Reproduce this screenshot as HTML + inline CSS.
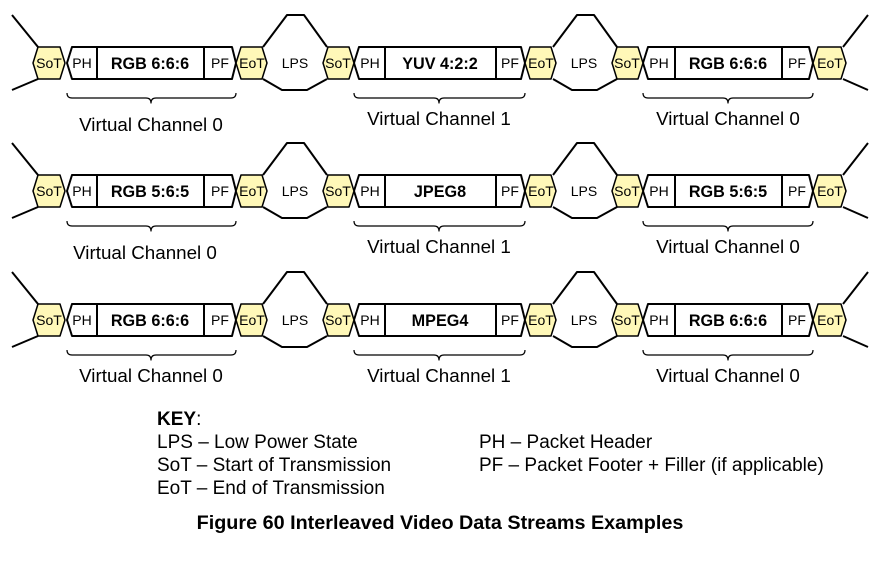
<!DOCTYPE html>
<html><head><meta charset="utf-8"><style>
html,body{margin:0;padding:0;background:#fff;}
svg{display:block;font-family:"Liberation Sans",Arial,sans-serif;}
</style></head><body>
<svg width="885" height="572" viewBox="0 0 885 572" xmlns="http://www.w3.org/2000/svg">
<defs>
<g id="row" stroke="#000" stroke-width="2" fill="none" stroke-linejoin="round">
<path d="M12,-48 L38,-16 M12,27 L38,16"/>
<path d="M263,-16 L287,-48 L304,-48 L327,-16 M263,16 L282,27 L307,27 L327,16"/>
<path d="M553,-16 L577,-48 L594,-48 L617,-16 M553,16 L572,27 L597,27 L617,16"/>
<path d="M843,-16 L868,-48 M843,16 L868,27"/>
<polygon fill="#fff" points="67,0 72,-16 232,-16 236,0 232,16 72,16"/>
<polygon fill="#fff" points="354,0 359,-16 521,-16 525,0 521,16 359,16"/>
<polygon fill="#fff" points="643,0 648,-16 809,-16 813,0 809,16 648,16"/>
<path d="M97,-16V16 M204,-16V16 M385,-16V16 M496,-16V16 M675,-16V16 M782,-16V16"/>
<g fill="#fff8b8" stroke-width="1.5">
<polygon points="33,0 38,-16 60,-16 65,0 60,16 38,16"/>
<polygon points="236,0 241,-16 262,-16 267,0 262,16 241,16"/>
<polygon points="323,0 328,-16 349,-16 354,0 349,16 328,16"/>
<polygon points="525,0 530,-16 551,-16 556,0 551,16 530,16"/>
<polygon points="612,0 617,-16 638,-16 643,0 638,16 617,16"/>
<polygon points="813,0 818,-16 841,-16 846,0 841,16 818,16"/>
</g>
<g stroke-width="1.2">
<path d="M67,30 q0,5 5,5 L146,35 q5,0 5,5 q0,-5 5,-5 L231,35 q5,0 5,-5"/>
<path d="M354,30 q0,5 5,5 L434,35 q5,0 5,5 q0,-5 5,-5 L520,35 q5,0 5,-5"/>
<path d="M643,30 q0,5 5,5 L723,35 q5,0 5,5 q0,-5 5,-5 L808,35 q5,0 5,-5"/>
</g>
</g>
</defs>
<use href="#row" transform="translate(0,63)"/>
<use href="#row" transform="translate(0,191)"/>
<use href="#row" transform="translate(0,320)"/>
<g font-size="14" text-anchor="middle">
<g transform="translate(0,63)">
<text x="49" y="5">SoT</text><text x="82" y="5">PH</text><text x="220" y="5">PF</text>
<text x="252" y="5">EoT</text><text x="295" y="5">LPS</text><text x="338" y="5">SoT</text>
<text x="370" y="5">PH</text><text x="510" y="5">PF</text><text x="541" y="5">EoT</text>
<text x="584" y="5">LPS</text><text x="627" y="5">SoT</text><text x="659" y="5">PH</text>
<text x="797" y="5">PF</text><text x="830" y="5">EoT</text>
<g font-weight="bold" font-size="16.2"><text x="150" y="6">RGB 6:6:6</text><text x="440" y="6">YUV 4:2:2</text><text x="728" y="6">RGB 6:6:6</text></g>
</g>
<g transform="translate(0,191)">
<text x="49" y="5">SoT</text><text x="82" y="5">PH</text><text x="220" y="5">PF</text>
<text x="252" y="5">EoT</text><text x="295" y="5">LPS</text><text x="338" y="5">SoT</text>
<text x="370" y="5">PH</text><text x="510" y="5">PF</text><text x="541" y="5">EoT</text>
<text x="584" y="5">LPS</text><text x="627" y="5">SoT</text><text x="659" y="5">PH</text>
<text x="797" y="5">PF</text><text x="830" y="5">EoT</text>
<g font-weight="bold" font-size="16.2"><text x="150" y="6">RGB 5:6:5</text><text x="440" y="6">JPEG8</text><text x="728" y="6">RGB 5:6:5</text></g>
</g>
<g transform="translate(0,320)">
<text x="49" y="5">SoT</text><text x="82" y="5">PH</text><text x="220" y="5">PF</text>
<text x="252" y="5">EoT</text><text x="295" y="5">LPS</text><text x="338" y="5">SoT</text>
<text x="370" y="5">PH</text><text x="510" y="5">PF</text><text x="541" y="5">EoT</text>
<text x="584" y="5">LPS</text><text x="627" y="5">SoT</text><text x="659" y="5">PH</text>
<text x="797" y="5">PF</text><text x="830" y="5">EoT</text>
<g font-weight="bold" font-size="16.2"><text x="150" y="6">RGB 6:6:6</text><text x="440" y="6">MPEG4</text><text x="728" y="6">RGB 6:6:6</text></g>
</g>
</g>
<g font-size="18.8" text-anchor="middle">
<text x="151" y="131">Virtual Channel 0</text><text x="439" y="125">Virtual Channel 1</text><text x="728" y="125">Virtual Channel 0</text>
<text x="145" y="259">Virtual Channel 0</text><text x="439" y="253">Virtual Channel 1</text><text x="728" y="253">Virtual Channel 0</text>
<text x="151" y="382">Virtual Channel 0</text><text x="439" y="382">Virtual Channel 1</text><text x="728" y="382">Virtual Channel 0</text>
</g>
<g font-size="19">
<text x="157" y="425"><tspan font-weight="bold">KEY</tspan>:</text>
<text x="157" y="448">LPS – Low Power State</text>
<text x="157" y="471">SoT – Start of Transmission</text>
<text x="157" y="494">EoT – End of Transmission</text>
<text x="479" y="448">PH – Packet Header</text>
<text x="479" y="471">PF – Packet Footer + Filler (if applicable)</text>
</g>
<text x="440" y="529" font-size="19.8" font-weight="bold" text-anchor="middle">Figure 60 Interleaved Video Data Streams Examples</text>
</svg>
</body></html>
